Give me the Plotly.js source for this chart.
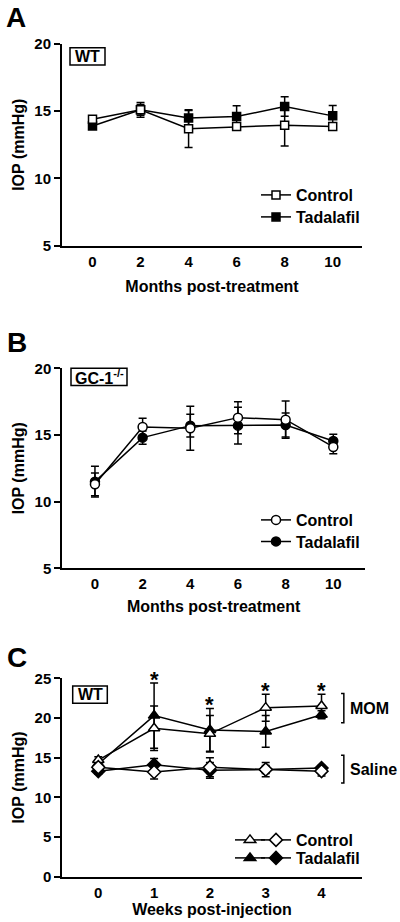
<!DOCTYPE html>
<html>
<head>
<meta charset="utf-8">
<script src="https://cdn.plot.ly/plotly-3.0.1.min.js"></script>
<style>html,body{margin:0;padding:0;background:#fff;}#chart{width:400px;height:922px;}</style>
</head>
<body>
<div id="chart"></div>
<script>
// ---------- Data ----------
const monthsA = [0, 2, 4, 6, 8, 10];
const ctrlA = [14.4, 15.1, 13.7, 13.85, 13.95, 13.85];
const ctrlAErr = [0.15, 0.55, 1.4, 0.2, 1.55, 0.2];
const tadA = [13.9, 15.1, 14.5, 14.6, 15.35, 14.65];
const tadAErr = [0.1, 0.4, 0.55, 0.8, 0.72, 0.77];

const monthsB = [0, 2, 4, 6, 8, 10];
const ctrlB = [11.3, 15.6, 15.5, 16.3, 16.15, 14.1];
const ctrlBErr = [0.85, 0.65, 1.65, 1.2, 1.4, 0.5];
const tadB = [11.5, 14.8, 15.7, 15.7, 15.75, 14.55];
const tadBErr = [1.15, 0.5, 0.85, 1.37, 0.9, 0.5];

const weeksC = [0, 1, 2, 3, 4];
const momCtrl = [14.7, 18.7, 18.0, 21.3, 21.5];
const momCtrlErr = [0.4, 2.8, 2.3, 1.7, 1.5];
const momTad = [14.2, 20.3, 18.5, 18.3, 20.4];
const momTadErr = [0.5, 4.1, 2.7, 2.0, 0.5];
const salCtrl = [13.8, 13.2, 13.8, 13.5, 13.3];
const salCtrlErr = [0.4, 0.9, 1.2, 0.5, 0.6];
const salTad = [13.3, 14.1, 13.4, 13.5, 13.7];
const salTadErr = [0.4, 0.8, 1.0, 0.9, 0.3];
const sigWeeks = [1, 2, 3, 4];

const ticksAB = [5, 10, 15, 20];
const ticksC = [0, 5, 10, 15, 20, 25];

// ---------- Styling ----------
const FONT = 'Liberation Sans, Arial, Helvetica, sans-serif';
const W = 400, H = 922;
const px = v => v / W;
const py = v => 1 - v / H;

function errStyle(arr) {
  return {type: 'data', array: arr, visible: true, color: '#000', thickness: 1.5, width: 4};
}
function series(x, y, err, name, symbol, fill, size, xa, ya, leg) {
  return {
    x: x, y: y, error_y: errStyle(err), name: name,
    type: 'scatter', mode: 'lines+markers',
    line: {color: '#000', width: 1.5},
    marker: {symbol: symbol, size: size, color: fill, line: {color: '#000', width: 1.5}},
    xaxis: xa, yaxis: ya, legend: leg, showlegend: true, hoverinfo: 'x+y'
  };
}

const traces = [
  series(monthsA, tadA, tadAErr, 'Tadalafil', 'square', '#000', 8, 'x', 'y', 'legend2'),
  series(monthsA, ctrlA, ctrlAErr, 'Control', 'square', '#fff', 8, 'x', 'y', 'legend'),
  series(monthsB, tadB, tadBErr, 'Tadalafil', 'circle', '#000', 9, 'x2', 'y2', 'legend4'),
  series(monthsB, ctrlB, ctrlBErr, 'Control', 'circle', '#fff', 9, 'x2', 'y2', 'legend3'),
  series(weeksC, momTad, momTadErr, ' ', 'triangle-up', '#000', 10, 'x3', 'y3', 'legend7'),
  series(weeksC, momCtrl, momCtrlErr, ' ', 'triangle-up', '#fff', 10, 'x3', 'y3', 'legend5'),
  series(weeksC, salTad, salTadErr, 'Tadalafil', 'diamond', '#000', 10, 'x3', 'y3', 'legend8'),
  series(weeksC, salCtrl, salCtrlErr, 'Control', 'diamond', '#fff', 10, 'x3', 'y3', 'legend6')
];

function xAxis(dom, range, tickvals, title, standoff, anchor) {
  return {
    domain: dom, range: range, anchor: anchor,
    tickvals: tickvals, ticks: '', showgrid: false, zeroline: false,
    showline: true, linecolor: '#000', linewidth: 2,
    tickfont: {family: FONT, size: 15, color: '#000', weight: 'bold'},
    ticklabelstandoff: 1,
    title: {text: title, standoff: standoff, font: {family: FONT, size: 16, color: '#000', weight: 'bold'}},
    fixedrange: true
  };
}
function yAxis(dom, range, tickvals, anchor) {
  return {
    domain: dom, range: range, anchor: anchor,
    tickvals: tickvals, ticks: 'outside', ticklen: 6, tickwidth: 2, tickcolor: '#000',
    showgrid: false, zeroline: false,
    showline: true, linecolor: '#000', linewidth: 2,
    tickfont: {family: FONT, size: 15, color: '#000', weight: 'bold'},
    title: {text: 'IOP (mmHg)', standoff: 6, font: {family: FONT, size: 16, color: '#000', weight: 'bold'}},
    fixedrange: true
  };
}

// one legend per row so each row sits exactly where the reference has it
function legendRow(x, yc) {
  return {
    x: px(x), y: py(yc), xref: 'paper', yref: 'paper', xanchor: 'left', yanchor: 'middle',
    bgcolor: 'rgba(0,0,0,0)', borderwidth: 0,
    font: {family: FONT, size: 16, color: '#000', weight: 'bold'},
    itemwidth: 30, tracegroupgap: 0
  };
}

// significance stars above the highest MOM error bar
const starAnn = sigWeeks.map(w => {
  const i = weeksC.indexOf(w);
  const top = Math.max(momCtrl[i] + momCtrlErr[i], momTad[i] + momTadErr[i]);
  return {x: w, y: top + 0.5, xref: 'x3', yref: 'y3', text: '*', showarrow: false,
    xanchor: 'center', yanchor: 'middle',
    font: {family: FONT, size: 22, color: '#000', weight: 'bold'}};
});

function panelLetter(t, x, y) {
  return {x: px(x), y: py(y), xref: 'paper', yref: 'paper', text: t, showarrow: false,
    xanchor: 'center', yanchor: 'middle', font: {family: FONT, size: 28, color: '#000', weight: 'bold'}};
}
function boxLabel(t, cx, cy) {
  return {x: px(cx), y: py(cy), xref: 'paper', yref: 'paper', text: t, showarrow: false,
    xanchor: 'center', yanchor: 'middle', font: {family: FONT, size: 16, color: '#000', weight: 'bold'}};
}
function boxRect(x0, y0, x1, y1) {
  return {type: 'rect', xref: 'paper', yref: 'paper', x0: px(x0), x1: px(x1), y0: py(y1), y1: py(y0),
    line: {color: '#000', width: 1.5}, fillcolor: 'rgba(0,0,0,0)'};
}
function bracket(y0, y1) {
  return {type: 'path', xref: 'x3', yref: 'y3',
    path: `M 4.35 ${y1} L 4.40 ${y1} L 4.40 ${y0} L 4.35 ${y0}`,
    line: {color: '#000', width: 1.5}};
}
function groupLabel(t, y) {
  return {x: 4.47, y: y, xref: 'x3', yref: 'y3', text: t, showarrow: false,
    xanchor: 'left', yanchor: 'middle', font: {family: FONT, size: 16, color: '#000', weight: 'bold'}};
}

const layout = {
  width: W, height: H,
  margin: {l: 0, r: 0, t: 0, b: 0},
  paper_bgcolor: '#fff', plot_bgcolor: 'rgba(0,0,0,0)',
  font: {family: FONT, color: '#000'},
  xaxis: xAxis([px(62), px(362)], [-1.27, 11.22], monthsA, 'Months post-treatment', 12, 'y'),
  yaxis: yAxis([py(245.5), py(44)], [5, 20], ticksAB, 'x'),
  xaxis2: xAxis([px(62.3), px(365)], [-1.37, 11.33], monthsB, 'Months post-treatment', 10, 'y2'),
  yaxis2: yAxis([py(568.3), py(368.3)], [5, 20], ticksAB, 'x2'),
  xaxis3: xAxis([px(62.3), px(361.7)], [-0.645, 4.72], weeksC, 'Weeks post-injection', 4, 'y3'),
  yaxis3: yAxis([py(876.7), py(678.3)], [0, 25], ticksC, 'x3'),
  legend: legendRow(256, 195),
  legend2: legendRow(256, 217),
  legend3: legendRow(256, 520),
  legend4: legendRow(256, 541.5),
  legend5: legendRow(230, 840),
  legend6: legendRow(256, 840),
  legend7: legendRow(230, 858),
  legend8: legendRow(256, 858),
  shapes: [
    boxRect(70, 47.7, 105, 65),
    boxRect(71, 368.3, 127, 385.5),
    boxRect(72.7, 686, 107.3, 703.3),
    bracket(19.4, 23.1),
    bracket(11.8, 15.3)
  ],
  annotations: [
    panelLetter('A', 16, 17),
    panelLetter('B', 17, 342),
    panelLetter('C', 16.5, 657),
    boxLabel('WT', 87.5, 56.5),
    boxLabel('GC-1<sup>-/-</sup>', 99, 377),
    boxLabel('WT', 90, 694.7),
    groupLabel('MOM', 21.25),
    groupLabel('Saline', 13.55)
  ].concat(starAnn),
  showlegend: true
};

Plotly.newPlot('chart', traces, layout, {displayModeBar: false, staticPlot: true});
</script>
</body>
</html>
